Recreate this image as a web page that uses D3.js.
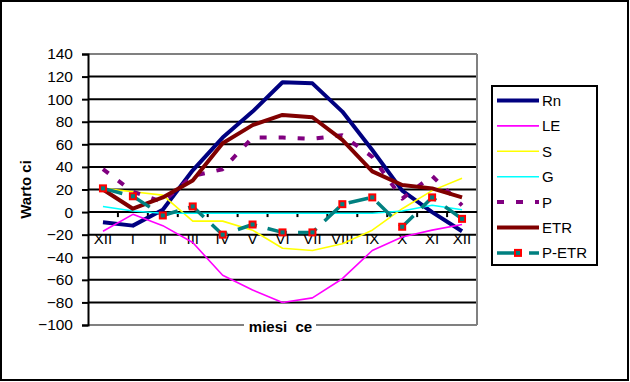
<!DOCTYPE html>
<html>
<head>
<meta charset="utf-8">
<script src="https://cdn.jsdelivr.net/npm/d3@7"></script>
<style>
    body { margin: 0; background: #fff; }
    text { font-family: "Liberation Sans", Arial, sans-serif; }
</style>
</head>
<body>
<script>

// Chart data
var months = ['XII', 'I', 'II', 'III', 'IV', 'V', 'VI', 'VII', 'VIII', 'IX', 'X', 'XI', 'XII'];
var rn   = [-9, -12, 2, 37, 66, 89, 115, 114, 89, 55, 19, 0, -17];
var le   = [-17, -2, -12, -27, -56, -69, -80, -76, -59, -34, -22, -16, -11];
var s    = [21, 18, 15, -8, -8, -16, -32, -34, -28, -16, 3, 19, 30];
var g    = [5, 1, -1, -1, -1, -1, -1, -1, -1, -1, 1, 6, 2];
var p    = [38, 18, 9, 32, 38, 66, 66, 65, 68, 49, 12, 32, 6];
var etr  = [20, 3, 13, 28, 61, 77, 86, 84, 64, 36, 24, 21, 13];
var petr = [21, 14, -3, 5, -20, -11, -18, -18, 7, 13, -13, 13, -6];
var y_ticks = [-100, -80, -60, -40, -20, 0, 20, 40, 60, 80, 100, 120, 140];

// Series styles, in drawing order
var series = [
    { name : 'Rn',    values : rn,   color : '#000080', width : 4 },
    { name : 'LE',    values : le,   color : '#ff00ff', width : 1.6 },
    { name : 'S',     values : s,    color : '#ffff00', width : 1.6 },
    { name : 'G',     values : g,    color : '#00ffff', width : 1.6 },
    { name : 'P',     values : p,    color : '#800080', width : 4, dash : '7,12' },
    { name : 'ETR',   values : etr,  color : '#800000', width : 4 },
    { name : 'P-ETR', values : petr, color : '#008080', width : 3.5, dash : '20,11', marker : true }
];

var W = 630, H = 382;
var plot_left = 88, plot_right = 477, plot_top = 54, plot_bottom = 325;

var svg = d3.select('body').append('svg')
    .attr('width', W)
    .attr('height', H);

svg.append('rect')
    .attr('x', 1).attr('y', 1)
    .attr('width', W - 3).attr('height', H - 3)
    .attr('fill', '#fff')
    .attr('stroke', '#000')
    .attr('stroke-width', 2);

var x = d3.scaleBand().domain(d3.range(months.length)).range([plot_left, plot_right]);
var y = d3.scaleLinear().domain([-100, 140]).range([plot_bottom, plot_top]);

function cx(i) { return x(i) + x.bandwidth() / 2; }

// Grid lines
svg.append('g')
    .selectAll('line')
    .data(y_ticks)
    .enter()
    .append('line')
    .attr('x1', plot_left)
    .attr('x2', plot_right)
    .attr('y1', function (d) { return y(d); })
    .attr('y2', function (d) { return y(d); })
    .attr('stroke', function (d) { return (d === 140 || d === -100) ? '#808080' : '#000'; })
    .attr('stroke-width', 2);

// Right border of plot area
svg.append('line')
    .attr('x1', plot_right).attr('x2', plot_right)
    .attr('y1', y(140)).attr('y2', y(-100))
    .attr('stroke', '#808080')
    .attr('stroke-width', 2);

// Y axis
var y_axis = svg.append('g')
    .attr('transform', 'translate(' + plot_left + ',0)')
    .call(d3.axisLeft(y).tickValues(y_ticks).tickSize(6).tickPadding(9));
y_axis.select('.domain').attr('stroke', '#000').attr('stroke-width', 2);
y_axis.selectAll('.tick line').attr('stroke', '#000').attr('stroke-width', 2);
y_axis.selectAll('text')
    .attr('font-size', 15.5)
    .attr('font-family', '"Liberation Sans", Arial, sans-serif')
    .attr('fill', '#000');

// X axis at zero
var x_axis = svg.append('g')
    .attr('transform', 'translate(0,' + y(0) + ')')
    .call(d3.axisBottom(x).tickSize(0).tickFormat(function (i) { return months[i]; }));
x_axis.select('.domain').remove();
x_axis.selectAll('text')
    .attr('y', 32)
    .attr('dy', null)
    .attr('font-size', 15)
    .attr('font-family', '"Liberation Sans", Arial, sans-serif')
    .attr('fill', '#000');

svg.append('line')
    .attr('x1', plot_left).attr('x2', plot_right)
    .attr('y1', y(0)).attr('y2', y(0))
    .attr('stroke', '#000')
    .attr('stroke-width', 2);

// Tick marks between categories
svg.append('g')
    .selectAll('line')
    .data(d3.range(1, months.length))
    .enter()
    .append('line')
    .attr('x1', function (i) { return x(i); })
    .attr('x2', function (i) { return x(i); })
    .attr('y1', y(0))
    .attr('y2', y(0) + 5)
    .attr('stroke', '#000')
    .attr('stroke-width', 2);

// Series lines
var line = d3.line()
    .x(function (d, i) { return cx(i); })
    .y(function (d) { return y(d); });

series.forEach(function (sr) {
    svg.append('path')
        .datum(sr.values)
        .attr('d', line)
        .attr('fill', 'none')
        .attr('stroke', sr.color)
        .attr('stroke-width', sr.width)
        .attr('stroke-dasharray', sr.dash || null)
        .attr('stroke-linejoin', 'round');

    if (sr.marker) {
        svg.append('g')
            .selectAll('rect')
            .data(sr.values)
            .enter()
            .append('rect')
            .attr('x', function (d, i) { return cx(i) - 3; })
            .attr('y', function (d) { return y(d) - 3; })
            .attr('width', 6)
            .attr('height', 6)
            .attr('fill', sr.color)
            .attr('stroke', '#ff0000')
            .attr('stroke-width', 2);
    }
});

// Axis titles
svg.append('rect')
    .attr('x', 244).attr('y', 320)
    .attr('width', 72).attr('height', 12)
    .attr('fill', '#fff');
svg.append('text')
    .attr('x', (plot_left + plot_right) / 2 - 2)
    .attr('y', 332)
    .attr('text-anchor', 'middle')
    .attr('font-size', 15)
    .attr('font-weight', 'bold')
    .style('white-space', 'pre')
    .text('miesi  ce');

svg.append('text')
    .attr('transform', 'translate(31,' + ((plot_top + plot_bottom) / 2) + ') rotate(-90)')
    .attr('text-anchor', 'middle')
    .attr('font-size', 15)
    .attr('font-weight', 'bold')
    .text('Warto ci');

// Legend
var legend = svg.append('g');
legend.append('rect')
    .attr('x', 492).attr('y', 86)
    .attr('width', 105).attr('height', 179)
    .attr('fill', '#fff')
    .attr('stroke', '#000')
    .attr('stroke-width', 2);

var item = legend.selectAll('g.item')
    .data(series)
    .enter()
    .append('g')
    .attr('class', 'item')
    .attr('transform', function (d, i) { return 'translate(0,' + (100.5 + i * 25.4) + ')'; });

item.append('line')
    .attr('x1', 497).attr('x2', 539)
    .attr('y1', 0).attr('y2', 0)
    .attr('stroke', function (d) { return d.color; })
    .attr('stroke-width', function (d) { return d.width; })
    .attr('stroke-dasharray', function (d) { return d.dash ? (d.marker ? '20,12' : '7,12') : null; });

item.filter(function (d) { return d.marker; })
    .append('rect')
    .attr('x', 515).attr('y', -3)
    .attr('width', 6).attr('height', 6)
    .attr('fill', function (d) { return d.color; })
    .attr('stroke', '#ff0000')
    .attr('stroke-width', 2);

item.append('text')
    .attr('x', 542)
    .attr('y', 0)
    .attr('dy', '0.36em')
    .attr('font-size', 15)
    .text(function (d) { return d.name; });

</script>
</body>
</html>
